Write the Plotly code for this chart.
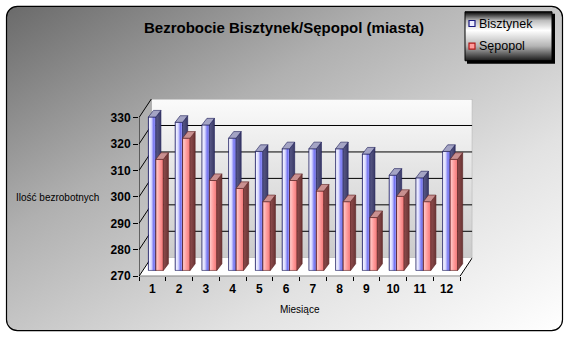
import base64
import plotly.graph_objects as go

# ---------------- data ----------------
months = [1, 2, 3, 4, 5, 6, 7, 8, 9, 10, 11, 12]
month_labels = [str(m) for m in months]
bisztynek = [328, 326, 325, 320, 315, 316, 316, 316, 314, 306, 305, 315]
sepopol = [312, 320, 304, 301, 296, 304, 300, 296, 290, 298, 296, 312]
series_names = ["Bisztynek", "Sępopol"]
y_ticks = [270, 280, 290, 300, 310, 320, 330]
title_text = "Bezrobocie Bisztynek/Sępopol (miasta)"
y_title = "Ilość bezrobotnych"
x_title = "Miesiące"

# ---------------- style constants (3D look) ----------------
YMIN, YMAX = 270, 330
DX, DY = 0.46, 7.0        # full depth of the 3D box (data units)
DXF, DYF = 0.13, 2.2      # depth position of the bar front faces
DXB, DYB = 0.19, 2.5      # depth of each bar
BW = 0.28                 # bar width
FONT = "Liberation Sans"

W_PX, H_PX = 568, 344
x0_px, x1_px = 139, 472.3
y0_px, y1_px = 282, 101.1

fig = go.Figure()

def poly(xs, ys, fill=None, grad=None, line_color=None, lw=0.0, xa="x", ya="y"):
    tr = dict(x=xs + [xs[0]], y=ys + [ys[0]], mode="lines", fill="toself",
              hoverinfo="skip", showlegend=False, xaxis=xa, yaxis=ya,
              line=dict(color=line_color or "rgba(0,0,0,0)", width=lw))
    if grad is not None:
        tr["fillgradient"] = grad
    else:
        tr["fillcolor"] = fill
    fig.add_trace(go.Scatter(**tr))

def seg(xs, ys, color="black", width=1, xa="x", ya="y"):
    fig.add_trace(go.Scatter(x=xs, y=ys, mode="lines", hoverinfo="skip",
                             showlegend=False, xaxis=xa, yaxis=ya,
                             line=dict(color=color, width=width)))

xl, xr = 0.5, len(months) + 0.5

# left side wall
poly([xl, xl + DX, xl + DX, xl], [YMIN, YMIN + DY, YMAX + DY, YMAX],
     fill="rgba(200,200,200,0.35)")
# back wall
poly([xl + DX, xr + DX, xr + DX, xl + DX],
     [YMIN + DY, YMIN + DY, YMAX + DY, YMAX + DY],
     grad=dict(type="vertical", colorscale=[[0, "#cbcbcb"], [0.55, "#e4e4e4"], [1, "#fbfbfb"]]),
     line_color="#a8a8a8", lw=1)
# floor
poly([xl, xr, xr + DX, xl + DX], [YMIN, YMIN, YMIN + DY, YMIN + DY], fill="white")

# gridlines on back wall and side wall
for v in y_ticks:
    if YMIN < v < YMAX:
        seg([xl + DX, xr + DX], [v + DY, v + DY], "black", 1)
    seg([xl, xl + DX], [v, v + DY], "black", 1)

# front axis lines
seg([xl, xl], [YMIN, YMAX], "black", 1)
seg([xl, xr], [YMIN, YMIN], "black", 1)
seg([xr, xr + DX], [YMIN, YMIN + DY], "black", 1)

face_styles = [
    dict(front=[[0, "#2a2a90"], [0.1, "#f4f4ff"], [0.4, "#d8d8ff"], [0.72, "#7474f0"], [1, "#a8a8ff"]],
         side=[[0, "#5a5a88"], [1, "#3a3a66"]], top="#a4a4c4", edge="#1a1a55"),
    dict(front=[[0, "#c05050"], [0.1, "#ffc8c8"], [0.5, "#ff9e9e"], [1, "#f27474"]],
         side=[[0, "#8e4c4c"], [1, "#6a3434"]], top="#c99090", edge="#5a2020"),
]

for i, m in enumerate(months):
    c = m + DXF
    for s, vals in enumerate([bisztynek, sepopol]):
        v = vals[i]
        st = face_styles[s]
        bl = c - BW if s == 0 else c
        br = bl + BW
        yb = YMIN + DYF
        yt = v + DYF
        # front face
        poly([bl, br, br, bl], [yb, yb, yt, yt],
             grad=dict(type="horizontal", colorscale=st["front"]),
             line_color=st["edge"], lw=0.6)
        # side face
        poly([br, br + DXB, br + DXB, br], [yb, yb + DYB, yt + DYB, yt],
             grad=dict(type="horizontal", colorscale=st["side"]),
             line_color=st["edge"], lw=0.6)
        # top face
        poly([bl, br, br + DXB, bl + DXB], [yt, yt, yt + DYB, yt + DYB],
             fill=st["top"], line_color=st["edge"], lw=0.6)

# ---------------- legend (overlay axes in pixel units) ----------------
poly([467, 555, 555, 467], [14, 14, 65, 65], fill="black", xa="x2", ya="y2")
poly([465, 552, 552, 465], [12, 12, 62, 62],
     grad=dict(type="vertical", colorscale=[[0, "#1a1a1a"], [0.3, "#b4b4b4"], [0.62, "#ffffff"],
                                            [0.82, "#bdbdbd"], [1, "#000000"]]),
     line_color="black", lw=1, xa="x2", ya="y2")
leg_y = [24, 47]
leg_fill = ["#ececff", "#ff9c9c"]
leg_line = ["#1a1a80", "#b01818"]
for k in range(2):
    fig.add_trace(go.Scatter(x=[472], y=[leg_y[k]], mode="markers", xaxis="x2", yaxis="y2",
                             hoverinfo="skip", showlegend=False,
                             marker=dict(symbol="square", size=6, color=leg_fill[k],
                                         line=dict(color=leg_line[k], width=1.2))))

annotations = [
    dict(text=series_names[k], x=477, y=leg_y[k], xref="x2", yref="y2", xanchor="left",
         yanchor="middle", showarrow=False, font=dict(family=FONT, size=12.5, color="black"))
    for k in range(2)
]
annotations += [
    dict(text=title_text, x=284, y=28, xref="x2", yref="y2", showarrow=False,
         font=dict(family=FONT, size=15, color="black", weight="bold")),
    dict(text=y_title, x=57, y=202, xref="x2", yref="y2", showarrow=False,
         font=dict(family=FONT, size=10, color="black")),
    dict(text=x_title, x=300, y=316, xref="x2", yref="y2", showarrow=False,
         font=dict(family=FONT, size=10, color="black")),
]

# ---------------- background image (rounded frame with gradient) ----------------
svg = (
    "<svg xmlns='http://www.w3.org/2000/svg' width='568' height='344' viewBox='0 0 568 344' "
    "preserveAspectRatio='none'><defs><linearGradient id='g' x1='0' y1='0' x2='1' y2='1'>"
    "<stop offset='0' stop-color='#6a6a6a'/><stop offset='0.35' stop-color='#b0b0b0'/>"
    "<stop offset='0.7' stop-color='#e2e2e2'/><stop offset='1' stop-color='#ffffff'/>"
    "</linearGradient></defs><rect x='6.5' y='6.5' width='556' height='331' rx='11' ry='11' "
    "fill='url(#g)' stroke='black' stroke-width='1.2'/></svg>"
)
src = "data:image/svg+xml;base64," + base64.b64encode(svg.encode()).decode()

fig.update_layout(
    width=W_PX, height=H_PX,
    margin=dict(l=0, r=0, t=0, b=0),
    paper_bgcolor="white", plot_bgcolor="rgba(0,0,0,0)",
    showlegend=False,
    images=[dict(source=src, xref="paper", yref="paper", x=0, y=1, sizex=1, sizey=1,
                 sizing="stretch", layer="below", xanchor="left", yanchor="top")],
    xaxis=dict(domain=[x0_px / W_PX, x1_px / W_PX], range=[xl, xr + DX],
               showgrid=False, zeroline=False, showline=False,
               tickmode="array", tickvals=months, ticktext=month_labels,
               ticks="outside", ticklen=1, tickcolor="rgba(0,0,0,0)",
               tickfont=dict(family=FONT, size=12, color="black", weight="bold"),
               minor=dict(tickmode="array", tickvals=[m - 0.5 for m in months] + [xr],
                          ticks="outside", ticklen=4, tickcolor="black", tickwidth=1),
               fixedrange=True),
    yaxis=dict(domain=[1 - y0_px / H_PX, 1 - y1_px / H_PX], range=[YMIN, YMAX + DY],
               showgrid=False, zeroline=False, showline=False,
               tickmode="array", tickvals=y_ticks, ticks="outside", ticklen=5,
               tickcolor="black", tickwidth=1,
               tickfont=dict(family=FONT, size=12, color="black", weight="bold"),
               fixedrange=True),
    xaxis2=dict(domain=[0, 1], range=[0, W_PX], visible=False, anchor="y2", fixedrange=True),
    yaxis2=dict(domain=[0, 1], range=[H_PX, 0], visible=False, anchor="x2", fixedrange=True),
    annotations=annotations,
)

fig.write_html("out.html", config={"displayModeBar": False})
